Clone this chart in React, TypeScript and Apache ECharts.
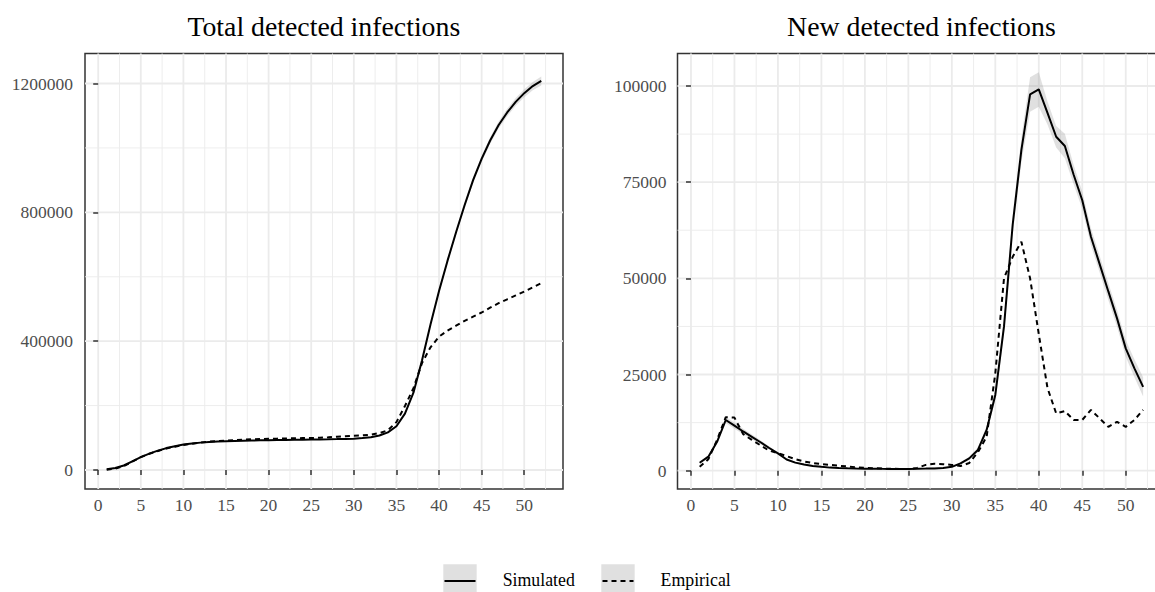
import React, { useEffect, useRef } from "react";
import * as echarts from "echarts";

const FONT = "'Liberation Serif', 'Times New Roman', serif";

const days = [1,2,3,4,5,6,7,8,9,10,11,12,13,14,15,16,17,18,19,20,21,22,23,24,25,26,27,28,29,30,31,32,33,34,35,36,37,38,39,40,41,42,43,44,45,46,47,48,49,50,51,52];

// Total detected infections
const totalSimulated = [2000,6000,14000,27000,40000,51000,60000,68000,74000,79000,82500,85000,87000,88500,89500,90300,91000,91600,92100,92600,93000,93400,93800,94200,94600,95000,95400,95900,96500,97300,99000,102000,107000,117000,136000,175000,240000,340000,452000,556000,650000,738000,822000,900000,966000,1023000,1071000,1110000,1143000,1170000,1192000,1208000];
const totalSimulatedBand = [500,800,1000,1200,1400,1500,1500,1500,1500,1500,1500,1500,1500,1500,1500,1500,1500,1500,1500,1500,1500,1500,1500,1500,1500,1500,1500,1500,1500,1500,1600,1800,2000,2500,3000,3500,4000,5000,6000,7000,8000,8500,9000,9500,10000,10500,11000,11500,12000,12500,13000,14000];
const totalEmpirical = [1000,4000,12000,26000,40000,50500,59000,66500,72500,77500,81500,85000,88000,90000,91500,93000,94200,95200,96000,96800,97400,98000,98500,99000,99400,100000,101500,103300,105000,106500,107700,109700,114500,123300,148600,198600,254000,332000,381000,414000,433000,448000,463000,476000,489000,504000,518000,530000,542000,554000,567000,580000];

// New detected infections
const newSimulated = [2080,3640,7500,13180,11700,10200,8800,7400,5900,4500,2900,2100,1600,1250,1000,800,700,620,560,520,500,480,470,460,470,500,540,600,700,1000,1900,3200,5400,10600,19700,37500,64000,83400,97800,99100,93000,86800,84400,77000,70300,60800,53700,46600,39600,31800,26600,21800];
const newSimulatedBand = [300,400,500,800,800,700,600,500,400,300,200,200,200,200,200,200,200,200,200,200,200,200,200,200,200,200,200,200,200,200,300,400,600,900,1300,1800,2500,3200,4500,4500,3000,2800,3200,2500,2300,2200,2200,2200,2200,2200,2300,2500];
const newEmpirical = [1000,3000,8000,13900,13800,9500,8000,6600,5200,4600,3800,3000,2400,2000,1700,1500,1300,1100,900,750,650,550,500,450,450,700,1500,1800,1700,1500,1200,2000,4800,8800,25300,50000,55600,59500,50000,35500,21500,14900,15500,13200,13200,15800,13600,11400,12700,11400,13200,15800];

const xMajorTicks = [0,5,10,15,20,25,30,35,40,45,50];
const xMinorTicks = [2.5,7.5,12.5,17.5,22.5,27.5,32.5,37.5,42.5,47.5,52.5];
const totalMajorTicks = [0,400000,800000,1200000];
const totalMinorTicks = [200000,600000,1000000];
const newMajorTicks = [0,25000,50000,75000,100000];
const newMinorTicks = [12500,37500,62500,87500];

const titles = ["Total detected infections", "New detected infections"];
const legendLabels = ["Simulated", "Empirical"];

const GRID_COLOR = "#EBEBEB";
const DARK = "#333333";
const BAND = "rgba(153,153,153,0.3)";

function gridData(xMaj: number[], xMin: number[], yMaj: number[], yMin: number[]) {
  const out: number[][] = [];
  xMin.forEach((v) => out.push([v, 0, 0]));
  yMin.forEach((v) => out.push([v, 1, 0]));
  xMaj.forEach((v) => out.push([v, 0, 1]));
  yMaj.forEach((v) => out.push([v, 1, 1]));
  return out;
}

function gridSeries(idx: number, data: number[][]) {
  return {
    type: "custom",
    xAxisIndex: idx,
    yAxisIndex: idx,
    silent: true,
    z: 0,
    data,
    renderItem: (params: any, api: any) => {
      const cs = params.coordSys;
      const v = api.value(0);
      const isY = api.value(1) === 1;
      const major = api.value(2) === 1;
      let shape;
      if (!isY) {
        const x = api.coord([v, 0])[0];
        shape = { x1: x, y1: cs.y, x2: x, y2: cs.y + cs.height };
      } else {
        const y = api.coord([0, v])[1];
        shape = { x1: cs.x, y1: y, x2: cs.x + cs.width, y2: y };
      }
      return {
        type: "line",
        shape,
        style: { stroke: GRID_COLOR, lineWidth: major ? 1.8 : 0.9 },
      };
    },
  };
}

function pairs(vals: number[]) {
  return days.map((d, i) => [d, vals[i]]);
}

function bandSeries(idx: number, vals: number[], band: number[]) {
  return {
    type: "custom",
    xAxisIndex: idx,
    yAxisIndex: idx,
    silent: true,
    z: 1,
    data: [[days[0], vals[0]]],
    renderItem: (params: any, api: any) => {
      const upper = days.map((d, i) => api.coord([d, vals[i] + band[i]]));
      const lower = days.map((d, i) => api.coord([d, vals[i] - band[i]])).reverse();
      return {
        type: "polygon",
        shape: { points: upper.concat(lower) },
        style: { fill: BAND },
      };
    },
  };
}

function lineSeries(idx: number, vals: number[], dashed: boolean) {
  return {
    type: "line", xAxisIndex: idx, yAxisIndex: idx, data: pairs(vals),
    symbol: "none", silent: true, z: 3,
    lineStyle: { color: "#000", width: 2, type: dashed ? [5, 4] : "solid" },
  };
}

function xAxis(idx: number) {
  return {
    type: "value", gridIndex: idx, min: -1.55, max: 54.55,
    axisLine: { show: false },
    splitLine: { show: false },
    axisTick: { show: true, customValues: xMajorTicks, length: 5, lineStyle: { color: DARK, width: 1.5 } },
    axisLabel: { customValues: xMajorTicks, fontSize: 17.5, color: "#4D4D4D", fontFamily: FONT, margin: 7 },
  };
}

function yAxis(idx: number, min: number, max: number, ticks: number[], margin: number) {
  return {
    type: "value", gridIndex: idx, min, max,
    axisLine: { show: false },
    splitLine: { show: false },
    axisTick: { show: true, customValues: ticks, length: 5, lineStyle: { color: DARK, width: 1.5 } },
    axisLabel: { customValues: ticks, fontSize: 17.5, color: "#4D4D4D", fontFamily: FONT, margin, formatter: (v: number) => String(v) },
  };
}

const option: any = {
  animation: false,
  textStyle: { fontFamily: FONT },
  grid: [
    { left: 85, top: 53.5, width: 478, height: 435.5, show: true, borderColor: DARK, borderWidth: 1.5, backgroundColor: "transparent" },
    { left: 677.5, top: 53.5, width: 487.8, height: 435.5, show: true, borderColor: DARK, borderWidth: 1.5, backgroundColor: "transparent" },
  ],
  xAxis: [xAxis(0), xAxis(1)],
  yAxis: [
    yAxis(0, -58991, 1293144, totalMajorTicks, 12),
    yAxis(1, -4757, 108448, newMajorTicks, 11),
  ],
  series: [
    gridSeries(0, gridData(xMajorTicks, xMinorTicks, totalMajorTicks, totalMinorTicks)),
    gridSeries(1, gridData(xMajorTicks, xMinorTicks, newMajorTicks, newMinorTicks)),
    bandSeries(0, totalSimulated, totalSimulatedBand),
    bandSeries(1, newSimulated, newSimulatedBand),
    lineSeries(0, totalEmpirical, true),
    lineSeries(0, totalSimulated, false),
    lineSeries(1, newEmpirical, true),
    lineSeries(1, newSimulated, false),
  ],
  graphic: [
    { type: "text", x: 323.8, y: 26, style: { text: titles[0], fontSize: 27.8, fontFamily: FONT, fill: "#000", align: "center", verticalAlign: "middle" } },
    { type: "text", x: 921.4, y: 26, style: { text: titles[1], fontSize: 27.8, fontFamily: FONT, fill: "#000", align: "center", verticalAlign: "middle" } },
    { type: "rect", shape: { x: 443.3, y: 564.3, width: 33.4, height: 33.4 }, style: { fill: BAND } },
    { type: "line", shape: { x1: 444.5, y1: 581, x2: 475.5, y2: 581 }, style: { stroke: "#000", lineWidth: 2 } },
    { type: "text", x: 502.7, y: 580, style: { text: legendLabels[0], fontSize: 17.8, fontFamily: FONT, fill: "#000", align: "left", verticalAlign: "middle" } },
    { type: "rect", shape: { x: 601.3, y: 564.3, width: 33.4, height: 33.4 }, style: { fill: BAND } },
    { type: "line", shape: { x1: 602.5, y1: 581, x2: 633.5, y2: 581 }, style: { stroke: "#000", lineWidth: 2, lineDash: [5, 4] } },
    { type: "text", x: 660.6, y: 580, style: { text: legendLabels[1], fontSize: 17.8, fontFamily: FONT, fill: "#000", align: "left", verticalAlign: "middle" } },
  ],
};

export default function App() {
  const ref = useRef<HTMLDivElement>(null);
  useEffect(() => {
    const chart = echarts.init(ref.current!, null, { renderer: "svg" });
    chart.setOption(option);
    return () => chart.dispose();
  }, []);
  return (
    <div style={{ position: "fixed", left: 0, top: 0, width: 1155, height: 592, overflow: "hidden", background: "#fff" }}>
      <div ref={ref} style={{ width: 1175, height: 592 }} />
    </div>
  );
}
